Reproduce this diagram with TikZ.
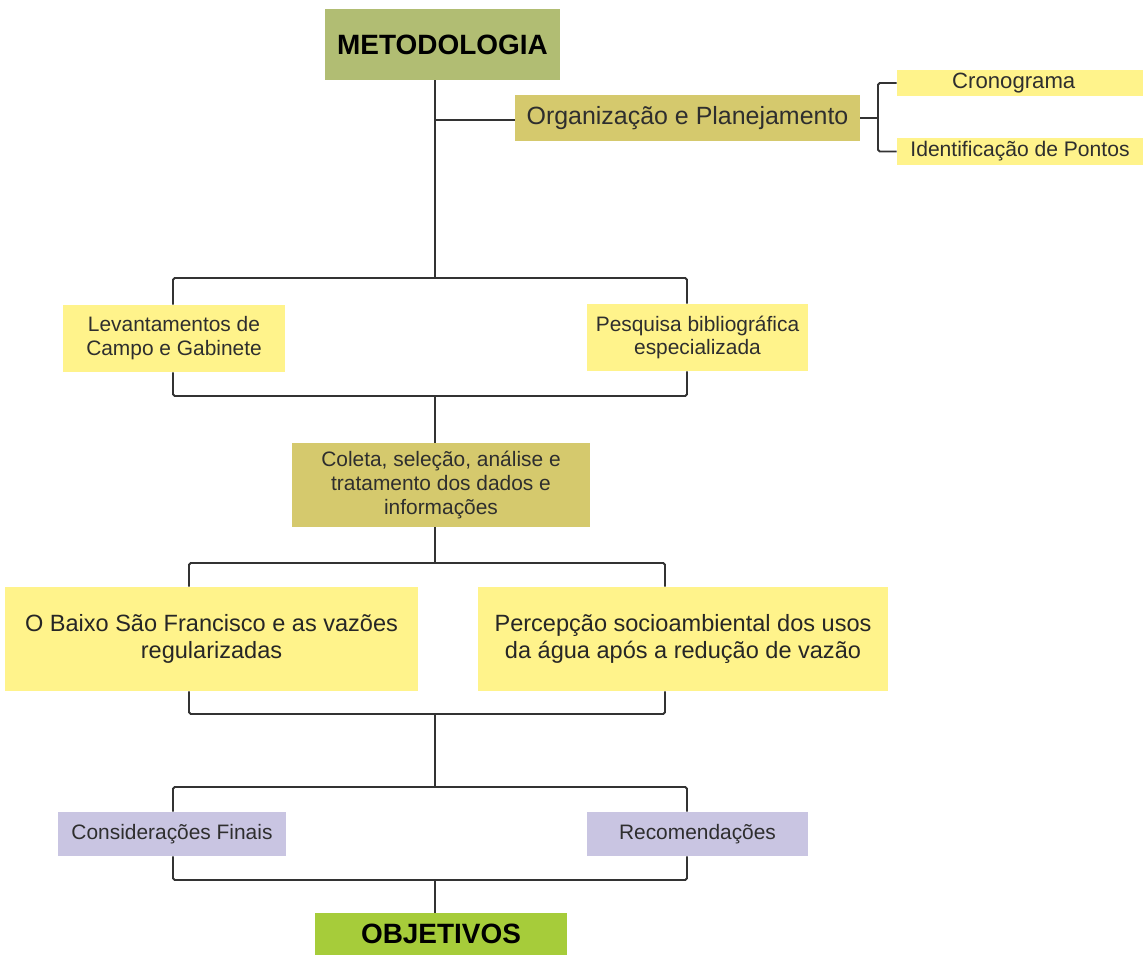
\documentclass[tikz,border=0pt]{standalone}
\usepackage{fontspec}
\setmainfont{Liberation Sans}

\definecolor{olivebox}{HTML}{B1BD73}
\definecolor{khakibox}{HTML}{D5C96D}
\definecolor{yellowbox}{HTML}{FFF38B}
\definecolor{lilacbox}{HTML}{C9C5E2}
\definecolor{limebox}{HTML}{A6CC3A}
\definecolor{txtgray}{HTML}{2E2E2E}
\definecolor{linegray}{HTML}{333333}

\tikzset{
  box/.style={inner sep=0pt, align=center, text=txtgray},
  smalltxt/.style={font=\fontsize{11.9}{13.6}\selectfont},
  link/.style={draw=linegray, line width=1.1pt}
}

\begin{document}
\begin{tikzpicture}[x=0.02cm, y=-0.02cm]
  \useasboundingbox (0,0) rectangle (1145,954);

  \node[box, fill=olivebox, text=black, minimum width=4.7cm, minimum height=1.42cm,
        font=\fontsize{15.9}{19}\selectfont\bfseries] (metod) at (442.5,44.5) {METODOLOGIA};
  \node[box, fill=khakibox, minimum width=6.9cm, minimum height=0.92cm,
        font=\fontsize{14.2}{17}\selectfont] (org) at (687.5,118) {\raisebox{-0.1cm}{Organização e Planejamento}};
  \node[box, fill=yellowbox, minimum width=4.92cm, minimum height=0.52cm,
        font=\fontsize{12.6}{15}\selectfont] (crono) at (1020,83) {\hspace*{-0.25cm}Cronograma};
  \node[box, fill=yellowbox, minimum width=4.92cm, minimum height=0.54cm,
        font=\fontsize{12}{14}\selectfont] (ident) at (1020,151.5) {Identificação de Pontos};

  \node[box, fill=yellowbox, smalltxt, minimum width=4.44cm, minimum height=1.34cm] (lev) at (174,338.5) {Levantamentos de\\Campo e Gabinete};
  \node[box, fill=yellowbox, smalltxt, minimum width=4.42cm, minimum height=1.34cm] (pesq) at (697.5,337.5) {Pesquisa bibliográfica\\especializada};

  \node[box, fill=khakibox, smalltxt, minimum width=5.96cm, minimum height=1.68cm] (coleta) at (441,485) {Coleta, seleção, análise e\\tratamento dos dados e\\informações};

  \node[box, fill=yellowbox, text=black!85, minimum width=8.26cm, minimum height=2.08cm,
        font=\fontsize{13.4}{15.3}\selectfont] (baixo) at (211.5,639) {O Baixo São Francisco e as vazões\\regularizadas};
  \node[box, fill=yellowbox, text=black!85, minimum width=8.2cm, minimum height=2.08cm,
        font=\fontsize{13.4}{15.3}\selectfont] (percep) at (683,639) {Percepção socioambiental dos usos\\da água após a redução de vazão};

  \node[box, fill=lilacbox, smalltxt, minimum width=4.56cm, minimum height=0.88cm] (consid) at (172,834) {Considerações Finais};
  \node[box, fill=lilacbox, smalltxt, minimum width=4.42cm, minimum height=0.88cm] (recom) at (697.5,834) {\raisebox{0.08cm}{Recomendações}};

  \node[box, fill=limebox, text=black, minimum width=5.04cm, minimum height=0.84cm,
        font=\fontsize{15.9}{19}\selectfont\bfseries] (objet) at (441,934) {OBJETIVOS};

  % trunk and brackets
  \coordinate (t1) at (435,120);
  \coordinate (j2) at (435,278);
  \coordinate (b2l) at (173,278);
  \coordinate (b2r) at (687,278);
  \coordinate (c2l) at (173,396);
  \coordinate (c2r) at (687,396);
  \coordinate (j3) at (435,396);
  \coordinate (j4) at (435,563);
  \coordinate (b4l) at (189,563);
  \coordinate (b4r) at (665,563);
  \coordinate (c4l) at (189,714);
  \coordinate (c4r) at (665,714);
  \coordinate (j5) at (435,714);
  \coordinate (j6) at (435,787);
  \coordinate (b6l) at (173,787);
  \coordinate (b6r) at (687,787);
  \coordinate (c6l) at (173,880);
  \coordinate (c6r) at (687,880);
  \coordinate (j7) at (435,880);
  \coordinate (k1) at (878,118);

  \draw[link] (j2 |- metod.south) -- (j2);
  \draw[link] (t1) -- (org.west |- t1);
  \draw[link] (org.east) -- (k1);
  \draw[link, rounded corners=1pt] (crono.west) -| (k1) |- (ident.west);

  \draw[link, rounded corners=1pt] (b2l |- lev.north) -- (b2l) -- (b2r) -- (b2r |- pesq.north);
  \draw[link, rounded corners=1pt] (c2l |- lev.south) -- (c2l) -- (c2r) -- (c2r |- pesq.south);
  \draw[link] (j3) -- (j3 |- coleta.north);
  \draw[link] (j4 |- coleta.south) -- (j4);

  \draw[link, rounded corners=1pt] (b4l |- baixo.north) -- (b4l) -- (b4r) -- (b4r |- percep.north);
  \draw[link, rounded corners=1pt] (c4l |- baixo.south) -- (c4l) -- (c4r) -- (c4r |- percep.south);
  \draw[link] (j5) -- (j6);

  \draw[link, rounded corners=1pt] (b6l |- consid.north) -- (b6l) -- (b6r) -- (b6r |- recom.north);
  \draw[link, rounded corners=1pt] (c6l |- consid.south) -- (c6l) -- (c6r) -- (c6r |- recom.south);
  \draw[link] (j7) -- (j7 |- objet.north);
\end{tikzpicture}
\end{document}
